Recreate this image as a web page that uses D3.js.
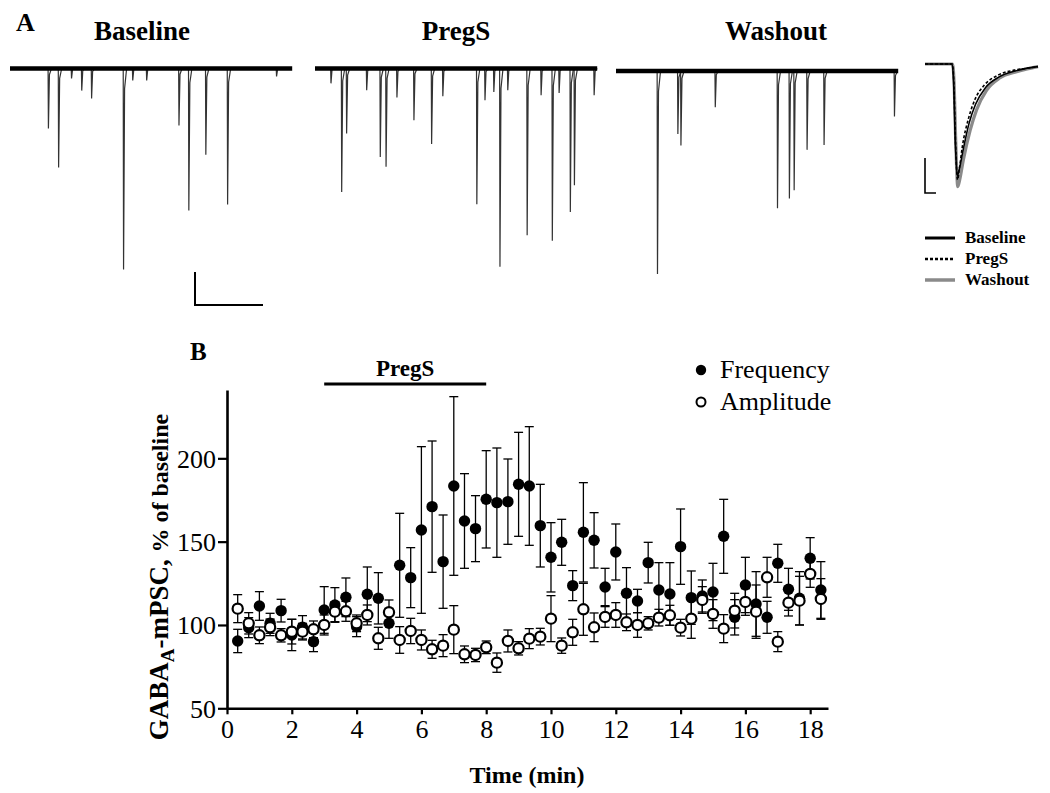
<!DOCTYPE html>
<html><head><meta charset="utf-8">
<script src="https://cdn.jsdelivr.net/npm/d3@7"></script>
<style>
html,body{margin:0;padding:0;background:#fff;}
svg{display:block;}
text{font-family:"Liberation Serif","Times New Roman",serif;fill:#000;}
</style></head>
<body>
<svg id="fig" width="1050" height="793"></svg>
<script>
// ---------------- DATA ----------------
const timeBins = [0.33,0.67,1.00,1.33,1.67,2.00,2.33,2.67,3.00,3.33,3.67,4.00,4.33,4.67,5.00,5.33,5.67,6.00,6.33,6.67,7.00,7.33,7.67,8.00,8.33,8.67,9.00,9.33,9.67,10.00,10.33,10.67,11.00,11.33,11.67,12.00,12.33,12.67,13.00,13.33,13.67,14.00,14.33,14.67,15.00,15.33,15.67,16.00,16.33,16.67,17.00,17.33,17.67,18.00,18.33];
const frequency = [90.4,98.4,111.4,101,108.6,94,98.6,90,109,112,116.6,99,118.4,116,101,135.8,128.4,157,171,138,183.4,162.4,157.8,175.4,173.4,174,184.4,183.4,159.6,140.6,149.6,123.6,155.6,150.8,122.8,143.8,119,114.4,137.4,121,118.6,147,116.4,117.4,119.8,153.2,104.6,124,112.6,104.6,137,121.4,116,140,121];
const frequencySem = [7,6,8.6,6,6.8,9.4,7,6,14,10.4,11.6,6,16.4,15.4,9,31.2,18,50,39.4,28,53.6,28.4,19.8,29.2,32.8,25.6,31.2,35.6,24.8,20.8,13.8,9,29.8,16.6,11.2,16.8,15.4,7,12.2,16.4,18.8,22.6,16,9.6,17.2,22.2,10.6,16.6,19.4,9.6,11.4,12.6,16,12.4,17];
const amplitude = [109.8,101,93.8,98.6,93.8,96,96,97.4,100,108,108.2,101,106,92,107.6,91,96.4,91,85.4,87.6,97.2,82.4,82,86.6,77.4,90.4,86,91.8,93,103.8,87.6,95.6,109.4,98.6,104.8,106,101.6,100,101,104.4,105.8,98.4,103.8,115,106.6,97.8,108.6,113.8,108,128.6,90,113.4,114.6,130.6,115.6];
const amplitudeSem = [8.4,6.4,5,5,4,7.4,5,5,6,6,6,5,6,6.6,7.4,8,7.6,6,5.4,6.6,14.4,5,4,3.8,5.8,6.6,4,6,5,13.8,4.6,7.8,15.6,8.6,6.2,7.4,5,7.4,4,5,6,5,11.8,8,8.6,8.4,10.4,8,16,12,6,8,14.6,8,12.2];
const xTickValues = [0,2,4,6,8,10,12,14,16,18];
const yTickValues = [50,100,150,200];
const seriesNames = ["Frequency","Amplitude"];
const pregsPeriod = [3,8];

// Panel A: example sweeps, events as [time (s), amplitude (pA)]
const sweepTitles = ["Baseline","PregS","Washout"];
const sweepDuration = 8.3;
const baselineEvents = [[1.13,182],[1.43,300],[1.81,30],[2.11,67],[2.40,91],[3.34,609],[3.61,36],[4.02,36],[4.97,173],[5.26,430],[5.76,261],[6.40,412],[7.84,24]];
const pregsEvents = [[0.47,45],[0.785,374],[0.93,197],[1.52,66],[1.92,268],[2.09,298],[2.41,88],[2.91,157],[3.43,229],[3.76,84],[4.76,411],[5.0,96],[5.26,71],[5.44,601],[5.67,66],[6.24,505],[6.65,81],[6.98,522],[7.18,74],[7.51,435],[7.63,354],[8.21,81]];
const washoutEvents = [[1.22,615],[1.82,191],[1.91,226],[2.92,110],[4.75,416],[5.10,386],[5.24,361],[5.62,239],[6.12,224],[8.19,138]];
const sweepScaleBar = {seconds: 2, pA: 100};

// Inset: averaged mPSC, [time (ms), current (pA, inward)]
const insetNames = ["Baseline","PregS","Washout"];
const insetBaseline = [[0,0],[12.3,0],[13,10],[13.8,45],[14.7,64],[15.6,60],[17.2,50],[20,34],[23,23],[27.5,13.5],[33.5,7.5],[41,4],[46,2.5],[51.4,1.5]];
const insetPregs = [[0,0],[12.4,0],[13.1,10],[13.9,45],[14.8,66],[15.6,60],[17,47],[19.8,31],[22.8,20],[27,12],[33,6.5],[40.5,3.5],[46,2.5],[51.4,1.5]];
const insetWashout = [[0,0],[12.5,0],[13.2,10],[14,45],[14.9,70],[15.8,66],[17.4,55],[20.5,38],[23.5,26],[28,15],[34,8],[41.7,4.4],[46,3],[51.4,1.5]];
const insetScaleBar = {ms: 5, pA: 20};

// ---------------- DRAW ----------------
const svg = d3.select("#fig");
const serif = '"Liberation Serif","Times New Roman",serif';

// ===== Panel A =====
svg.append("text").attr("x",16).attr("y",31).attr("font-size",26).attr("font-weight","bold").text("A");

const sweepLayout = [
  {x0:10, base:68.5, titleX:142},
  {x0:315, base:68.5, titleX:456},
  {x0:616, base:71, titleX:776}
];
const sweepEvents = [baselineEvents, pregsEvents, washoutEvents];
const pxPerSec = 34, pxPerPA = 0.33;

sweepLayout.forEach((L,k)=>{
  const sx = d3.scaleLinear().domain([0,sweepDuration]).range([L.x0, L.x0 + sweepDuration*pxPerSec]);
  const sy = d3.scaleLinear().domain([0,700]).range([L.base, L.base + 700*pxPerPA]);
  svg.append("text").attr("x",L.titleX).attr("y",40).attr("text-anchor","middle")
    .attr("font-size",27).attr("font-weight","bold").text(sweepTitles[k]);
  const g = svg.append("g");
  sweepEvents[k].forEach(([t,a])=>{
    const p = d3.path();
    p.moveTo(sx(t-0.01), sy(0));
    p.lineTo(sx(t), sy(a));
    p.lineTo(sx(t+0.03), sy(a*0.1));
    p.lineTo(sx(t+0.09), sy(0));
    g.append("path").attr("d",p.toString()).attr("fill","none").attr("stroke","#333").attr("stroke-width",1.2);
  });
  g.append("line").attr("x1",sx(0)).attr("x2",sx(sweepDuration)).attr("y1",sy(0)).attr("y2",sy(0))
    .attr("stroke","#000").attr("stroke-width",4.5);
  if(k===0){
    const bx = 195, by = 305;
    const len = sx(sweepScaleBar.seconds) - sx(0);
    const hgt = sy(sweepScaleBar.pA) - sy(0);
    svg.append("path").attr("d",`M${bx},${by-hgt}V${by}H${bx+len}`).attr("fill","none").attr("stroke","#000").attr("stroke-width",2);
  }
});

// Inset
const ix = d3.scaleLinear().domain([0,51.4]).range([925,1038]);
const iy = d3.scaleLinear().domain([0,70]).range([64,186.7]);
const iline = d3.line().x(d=>ix(d[0])).y(d=>iy(d[1])).curve(d3.curveMonotoneX);
svg.append("path").attr("d",iline(insetWashout)).attr("fill","none").attr("stroke","#8a8a8a").attr("stroke-width",3.2);
svg.append("path").attr("d",iline(insetBaseline)).attr("fill","none").attr("stroke","#000").attr("stroke-width",1.6);
svg.append("path").attr("d",iline(insetPregs)).attr("fill","none").attr("stroke","#000").attr("stroke-width",1.6).attr("stroke-dasharray","3,2");
{
  const bx = 925, by = 193;
  const len = ix(insetScaleBar.ms) - ix(0);
  const hgt = iy(insetScaleBar.pA) - iy(0);
  svg.append("path").attr("d",`M${bx},${by-hgt}V${by}H${bx+len}`).attr("fill","none").attr("stroke","#000").attr("stroke-width",1.6);
}
const insetLegendStyle = [
  {stroke:"#000", w:3, dash:null},
  {stroke:"#000", w:2.5, dash:"3,2"},
  {stroke:"#8a8a8a", w:3.5, dash:null}
];
[238,259,280].forEach((yy,k)=>{
  const s = insetLegendStyle[k];
  const ln = svg.append("line").attr("x1",925).attr("x2",955).attr("y1",yy).attr("y2",yy)
    .attr("stroke",s.stroke).attr("stroke-width",s.w);
  if(s.dash) ln.attr("stroke-dasharray",s.dash);
  svg.append("text").attr("x",965).attr("y",yy+5).attr("font-size",17).attr("font-weight","bold").text(insetNames[k]);
});

// ===== Panel B =====
const x = d3.scaleLinear().domain([0,18.55]).range([227,828]);
const y = d3.scaleLinear().domain([50,241]).range([708.3,390]);

svg.append("text").attr("x",190).attr("y",360).attr("font-size",25).attr("font-weight","bold").text("B");

const yAxis = d3.axisLeft(y).tickValues(yTickValues).tickSize(9).tickSizeOuter(0).tickPadding(2);
const xAxis = d3.axisBottom(x).tickValues(xTickValues).tickSize(6).tickSizeOuter(0).tickPadding(4);
const gy = svg.append("g").attr("transform",`translate(${x(0)},0)`).call(yAxis);
const gx = svg.append("g").attr("transform",`translate(0,${y(50)})`).call(xAxis);
[gx,gy].forEach(g=>{
  g.select(".domain").attr("stroke","#000").attr("stroke-width",2.6);
  g.selectAll(".tick line").attr("stroke","#000").attr("stroke-width",2.2);
  g.selectAll(".tick text").attr("font-family",serif).attr("font-size",26).attr("fill","#000");
});
gy.selectAll(".tick text").attr("dy","0.34em");
gx.selectAll(".tick text").attr("dy","0.75em");

svg.append("text").attr("x",527).attr("y",783).attr("text-anchor","middle")
  .attr("font-size",24).attr("font-weight","bold").text("Time (min)");
const yt = svg.append("text").attr("transform","translate(168,577) rotate(-90)")
  .attr("text-anchor","middle").attr("font-size",27).attr("font-weight","bold");
yt.append("tspan").text("GABA");
yt.append("tspan").attr("font-size",19).attr("dy",6).text("A");
yt.append("tspan").attr("dy",-6).text("-mPSC, ");
yt.append("tspan").attr("font-size",24).text("% of baseline");

svg.append("line").attr("x1",x(pregsPeriod[0])).attr("x2",x(pregsPeriod[1])).attr("y1",384).attr("y2",384)
  .attr("stroke","#000").attr("stroke-width",3.2);
svg.append("text").attr("x",(x(pregsPeriod[0])+x(pregsPeriod[1]))/2).attr("y",376).attr("text-anchor","middle")
  .attr("font-size",23).attr("font-weight","bold").text("PregS");

function drawBars(vals, sems){
  const g = svg.append("g");
  vals.forEach((v,i)=>{
    const cx = x(timeBins[i]);
    const top = y(v + sems[i]), bot = y(v - sems[i]);
    g.append("line").attr("x1",cx).attr("x2",cx).attr("y1",top).attr("y2",bot).attr("stroke","#000").attr("stroke-width",1.3);
    [top,bot].forEach(yy=>g.append("line").attr("x1",cx-4.5).attr("x2",cx+4.5).attr("y1",yy).attr("y2",yy).attr("stroke","#000").attr("stroke-width",1.3));
  });
}
drawBars(frequency, frequencySem);
drawBars(amplitude, amplitudeSem);
svg.append("g").selectAll("circle").data(frequency).join("circle")
  .attr("cx",(d,i)=>x(timeBins[i])).attr("cy",d=>y(d)).attr("r",5.7).attr("fill","#000");
svg.append("g").selectAll("circle").data(amplitude).join("circle")
  .attr("cx",(d,i)=>x(timeBins[i])).attr("cy",d=>y(d)).attr("r",5.1).attr("fill","#fff").attr("stroke","#000").attr("stroke-width",2.2);

svg.append("circle").attr("cx",701).attr("cy",370).attr("r",5.2).attr("fill","#000");
svg.append("circle").attr("cx",701).attr("cy",402).attr("r",4.5).attr("fill","#fff").attr("stroke","#000").attr("stroke-width",2);
svg.append("text").attr("x",720).attr("y",378).attr("font-size",26).text(seriesNames[0]);
svg.append("text").attr("x",720).attr("y",410).attr("font-size",26).text(seriesNames[1]);
</script>
</body></html>
